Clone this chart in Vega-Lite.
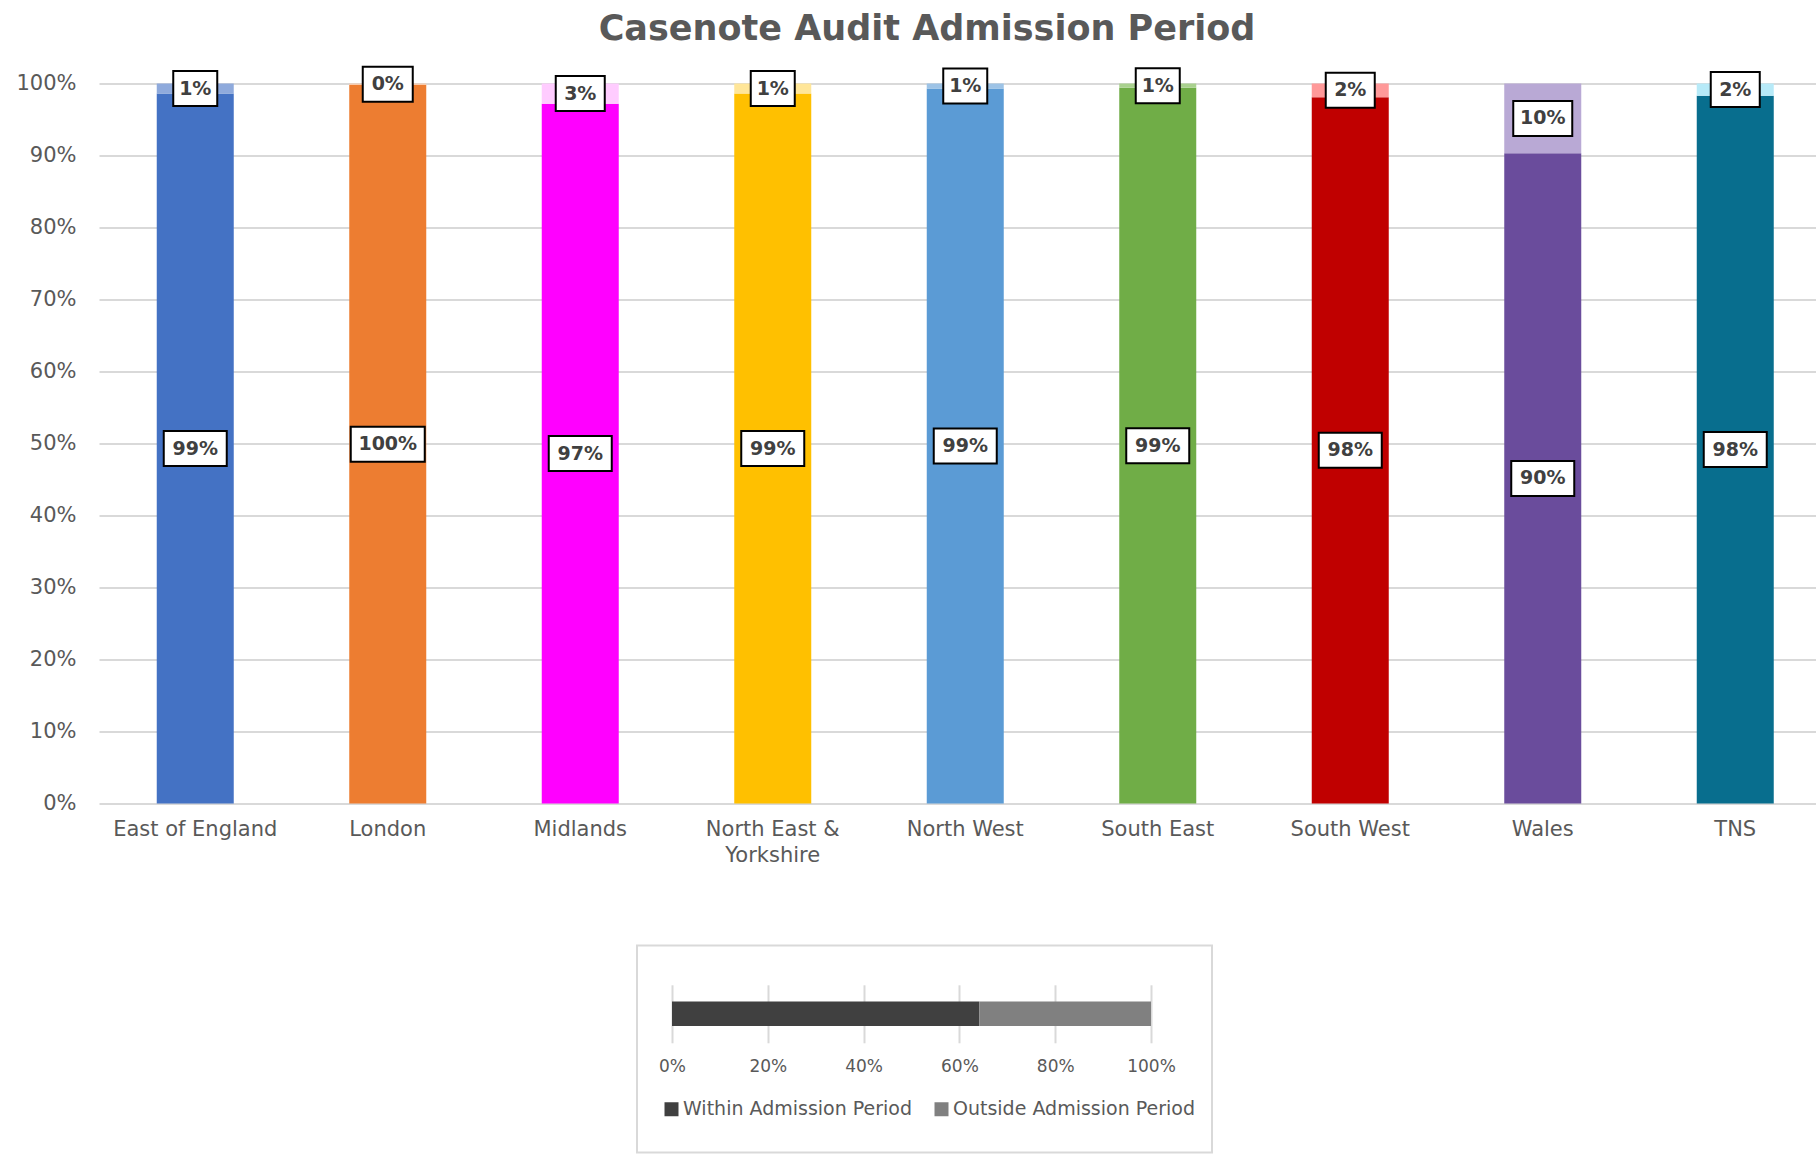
{
  "$schema": "https://vega.github.io/schema/vega-lite/v6.json",
  "background": "white",
  "padding": {"left": 15, "top": 11.5, "right": 0, "bottom": 0},
  "config": {
    "font": "DejaVu Sans",
    "view": {"stroke": null},
    "axis": {"labelFont": "DejaVu Sans", "labelColor": "#595959"}
  },
  "spacing": 79,
  "resolve": {"scale": {"color": "independent", "shape": "independent"}},
  "vconcat": [
    {
      "width": 1718,
      "height": 720,
      "title": {
        "text": "Casenote Audit Admission Period",
        "font": "DejaVu Sans",
        "fontSize": 35,
        "fontWeight": "bold",
        "color": "#595959",
        "anchor": "middle",
        "dx": -31,
        "offset": 16
      },
      "data": {
        "values": [
          {"region": "East of England", "status": "Within", "value": 0.986},
          {"region": "East of England", "status": "Outside", "value": 0.014},
          {"region": "London", "status": "Within", "value": 0.998},
          {"region": "London", "status": "Outside", "value": 0.002},
          {"region": "Midlands", "status": "Within", "value": 0.972},
          {"region": "Midlands", "status": "Outside", "value": 0.028},
          {"region": "North East & Yorkshire", "status": "Within", "value": 0.986},
          {"region": "North East & Yorkshire", "status": "Outside", "value": 0.014},
          {"region": "North West", "status": "Within", "value": 0.993},
          {"region": "North West", "status": "Outside", "value": 0.007},
          {"region": "South East", "status": "Within", "value": 0.994},
          {"region": "South East", "status": "Outside", "value": 0.006},
          {"region": "South West", "status": "Within", "value": 0.981},
          {"region": "South West", "status": "Outside", "value": 0.019},
          {"region": "Wales", "status": "Within", "value": 0.903},
          {"region": "Wales", "status": "Outside", "value": 0.097},
          {"region": "TNS", "status": "Within", "value": 0.983},
          {"region": "TNS", "status": "Outside", "value": 0.017}
        ]
      },
      "transform": [
        {"calculate": "datum.region + '|' + datum.status", "as": "key"},
        {"calculate": "format(datum.value, '.0%')", "as": "label"}
      ],
      "encoding": {
        "x": {
          "field": "region",
          "type": "nominal",
          "sort": null,
          "title": null,
          "scale": {"range": [0, 1732.5], "paddingInner": 0.6, "paddingOuter": 0.3},
          "axis": {
            "labelAngle": 0,
            "labelFontSize": 21,
            "labelPadding": 15,
            "labelLineHeight": 26,
            "labelExpr": "datum.value == 'North East & Yorkshire' ? ['North East &', 'Yorkshire'] : datum.value",
            "domain": false,
            "ticks": false,
            "grid": false
          }
        }
      },
      "layer": [
        {
          "mark": {"type": "bar"},
          "encoding": {
            "y": {
              "field": "value",
              "type": "quantitative",
              "stack": "zero",
              "title": null,
              "scale": {"domain": [0, 1], "nice": false},
              "axis": {
                "values": [0, 0.1, 0.2, 0.3, 0.4, 0.5, 0.6, 0.7, 0.8, 0.9, 1],
                "format": ".0%",
                "labelFontSize": 21,
                "labelPadding": 23,
                "domain": false,
                "ticks": false,
                "grid": true,
                "gridColor": "#d9d9d9",
                "gridWidth": 2
              }
            },
            "color": {
              "field": "key",
              "type": "nominal",
              "legend": null,
              "scale": {
                "domain": [
                  "East of England|Within", "East of England|Outside",
                  "London|Within", "London|Outside",
                  "Midlands|Within", "Midlands|Outside",
                  "North East & Yorkshire|Within", "North East & Yorkshire|Outside",
                  "North West|Within", "North West|Outside",
                  "South East|Within", "South East|Outside",
                  "South West|Within", "South West|Outside",
                  "Wales|Within", "Wales|Outside",
                  "TNS|Within", "TNS|Outside"
                ],
                "range": [
                  "#4472C4", "#8FAADC",
                  "#ED7D31", "#F8CBAD",
                  "#FF00FF", "#FFCCFF",
                  "#FFC000", "#FFE699",
                  "#5B9BD5", "#9DC3E6",
                  "#70AD47", "#A9D18E",
                  "#C00000", "#FF9999",
                  "#6A4C9C", "#B9A9D5",
                  "#086E8E", "#B7EAF8"
                ]
              }
            },
            "order": {"field": "status", "sort": "descending"}
          }
        },
        {
          "transform": [
            {"stack": "value", "groupby": ["region"], "sort": [{"field": "status", "order": "descending"}], "as": ["v0", "v1"]},
            {"calculate": "(datum.v0 + datum.v1) / 2", "as": "mid"}
          ],
          "layer": [
            {
              "mark": {"type": "point", "filled": true, "fill": "white", "stroke": "black", "strokeWidth": 2, "opacity": 1, "fillOpacity": 1, "size": 10000},
              "encoding": {
                "y": {"field": "mid", "type": "quantitative"},
                "shape": {
                  "field": "label",
                  "type": "nominal",
                  "legend": null,
                  "scale": {
                    "domain": ["1%", "0%", "2%", "3%", "10%", "90%", "97%", "98%", "99%", "100%"],
                    "range": [
                      "M-0.44,-0.35H0.44V0.35H-0.44Z",
                      "M-0.5,-0.35H0.5V0.35H-0.5Z",
                      "M-0.49,-0.35H0.49V0.35H-0.49Z",
                      "M-0.49,-0.35H0.49V0.35H-0.49Z",
                      "M-0.59,-0.35H0.59V0.35H-0.59Z",
                      "M-0.63,-0.35H0.63V0.35H-0.63Z",
                      "M-0.63,-0.35H0.63V0.35H-0.63Z",
                      "M-0.63,-0.35H0.63V0.35H-0.63Z",
                      "M-0.63,-0.35H0.63V0.35H-0.63Z",
                      "M-0.74,-0.35H0.74V0.35H-0.74Z"
                    ]
                  }
                }
              }
            },
            {
              "mark": {"type": "text", "font": "DejaVu Sans", "fontWeight": "bold", "fontSize": 19, "color": "#404040", "baseline": "middle", "align": "center"},
              "encoding": {
                "y": {"field": "mid", "type": "quantitative"},
                "text": {"field": "label"}
              }
            }
          ]
        }
      ]
    },
    {
      "spacing": 0,
      "hconcat": [
        {
          "width": 537,
          "height": 10,
          "data": {"values": [{"t": ""}]},
          "mark": {"type": "text"},
          "encoding": {"text": {"field": "t"}}
        },
        {
          "width": 575,
          "height": 207,
          "view": {"stroke": "#d9d9d9", "strokeWidth": 2},
          "data": {
            "values": [
              {"status": "Within Admission Period", "value": 0.6415},
              {"status": "Outside Admission Period", "value": 0.3585}
            ]
          },
          "mark": {"type": "bar"},
          "encoding": {
            "x": {
              "field": "value",
              "type": "quantitative",
              "stack": "zero",
              "title": null,
              "scale": {"domain": [-0.07307, 1.12735], "nice": false, "zero": false},
              "axis": {
                "orient": "bottom",
                "offset": -109.7,
                "values": [0, 0.2, 0.4, 0.6, 0.8, 1],
                "format": ".0%",
                "labelFontSize": 17,
                "labelPadding": 74,
                "domain": false,
                "ticks": true,
                "tickSize": -58,
                "tickColor": "#d9d9d9",
                "tickWidth": 2,
                "grid": false
              }
            },
            "y": {
              "datum": "all",
              "type": "nominal",
              "axis": null,
              "scale": {"range": [56, 80.6], "paddingInner": 0, "paddingOuter": 0}
            },
            "color": {
              "field": "status",
              "type": "nominal",
              "scale": {
                "domain": ["Within Admission Period", "Outside Admission Period"],
                "range": ["#404040", "#808080"]
              },
              "legend": {
                "title": null,
                "orient": "none",
                "legendX": 563,
                "legendY": 154,
                "direction": "horizontal",
                "symbolType": "square",
                "symbolSize": 196,
                "symbolStrokeWidth": 0,
                "labelFontSize": 19,
                "labelFont": "DejaVu Sans",
                "labelColor": "#595959",
                "labelLimit": 400,
                "labelOffset": 2,
                "columnPadding": 19,
                "padding": 0
              }
            },
            "order": {"field": "status", "sort": "descending"}
          }
        }
      ]
    }
  ]
}
